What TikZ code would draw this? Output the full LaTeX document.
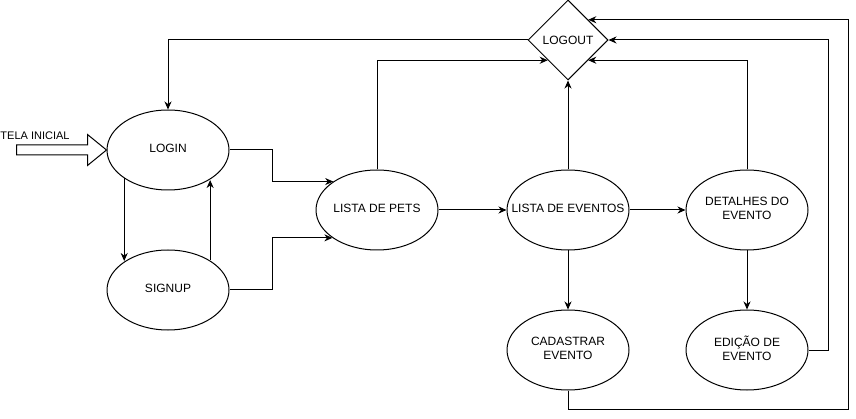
\documentclass[tikz,border=0pt]{standalone}
\usepackage{fontspec}
\setmainfont{Liberation Sans}
\usetikzlibrary{shapes.geometric,arrows.meta,calc}
\newcommand{\lbl}[1]{\makebox[0pt]{\begin{tabular}{@{}c@{}}#1\end{tabular}}}
\begin{document}
\begin{tikzpicture}[x=1pt,y=-1pt,
  every node/.style={font=\fontsize{12}{14}\selectfont},
  state/.style={draw,ellipse,line width=1pt,inner sep=0pt,minimum width=122pt,minimum height=80pt},
  decision/.style={draw,diamond,line width=1pt,inner sep=0pt,minimum width=80pt,minimum height=80pt},
  conn/.style={line width=1pt,-{Stealth[length=8pt,width=7pt,inset=2.5pt]}},
  hollow/.style={draw,line width=1pt,fill=white}]
\useasboundingbox (0,0) rectangle (856,419);
\node[decision] (logout) at (568,40) {LOGOUT};
\node[state] (login) at (168,150) {\lbl{LOGIN}};
\node[state] (signup) at (168,290) {\lbl{SIGNUP}};
\node[state] (pets) at (377,210) {\lbl{LISTA DE PETS}};
\node[state] (eventos) at (568,210) {\lbl{LISTA DE EVENTOS}};
\node[state] (detalhes) at (747,210) {\lbl{DETALHES DO\\EVENTO}};
\node[state] (cadastrar) at (568,350) {\lbl{CADASTRAR\\EVENTO}};
\node[state] (edicao) at (747,350) {\lbl{EDIÇÃO DE\\EVENTO}};
\node[font=\fontsize{11}{13}\selectfont] (tela) at (35,136) {TELA INICIAL};
\coordinate (outer) at (848,409);
% hollow entry arrow
\draw[hollow] (login.west) -- ++(-19,15.5) -- ++(0,-10.5) -- ++(-71,0) -- ++(0,-10) -- ++(71,0) -- ++(0,-10.5) -- cycle;
% connectors
\draw[conn] (logout.west) -| (login.north);
\draw[conn] (login.213.42) -- (login.213.42 |- signup.146.58);
\draw[conn] (signup.35.84) -- (signup.35.84 |- login.324.16);
\draw[conn] (login.east) -- ++(43,0) |- (pets.147.3);
\draw[conn] (signup.east) -- ++(43,0) |- (pets.212.7);
\draw[conn] (pets.north) |- (logout.south west);
\draw[conn] (pets.east) -- (eventos.west);
\draw[conn] (eventos.north) -- (logout.south);
\draw[conn] (eventos.east) -- (detalhes.west);
\draw[conn] (detalhes.north) |- (logout.south east);
\draw[conn] (eventos.south) -- (cadastrar.north);
\draw[conn] (detalhes.south) -- (edicao.north);
\draw[conn] (edicao.east) -- ++(20,0) |- (logout.east);
\draw[conn] (cadastrar.south) |- (outer) |- (logout.north east);
\end{tikzpicture}
\end{document}
